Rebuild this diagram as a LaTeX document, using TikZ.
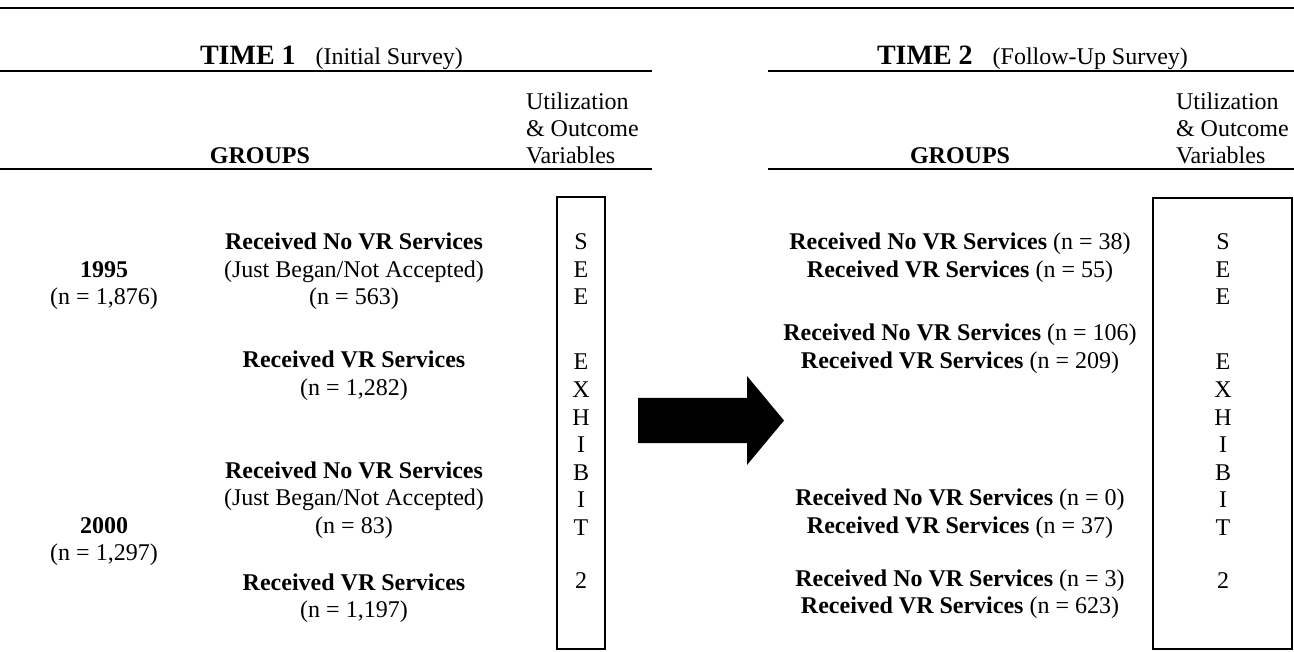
\documentclass[tikz,border=0pt]{standalone}
\usepackage{fontspec}
\setmainfont{Liberation Serif}
\begin{document}
\begin{tikzpicture}[x=1pt,y=-1pt,
  txt/.style={inner sep=0pt,outer sep=0pt,font=\fontsize{24}{27.5}\selectfont,anchor=base},
  bld/.style={txt,font=\fontsize{24}{27.5}\selectfont\bfseries},
  hdr/.style={txt,anchor=base west},
  rule/.style={line width=2pt},
  exbox/.style={draw,line width=2pt}]
\useasboundingbox (0,0) rectangle (1294,652);

% rules
\draw[rule,line width=2.4pt] (0,8) -- (1294,8);
\draw[rule] (0,71.5) -- (652,71.5);
\draw[rule] (0,169.5) -- (652,169.5);
\draw[rule] (768,71.5) -- (1294,71.5);
\draw[rule] (768,169.5) -- (1294,169.5);

% headers
\node[hdr] (t1) at (200,65) {{\fontsize{28}{30}\selectfont\bfseries TIME 1}\hspace{20pt}(Initial Survey)};
\node[hdr] (t2) at (877,65) {{\fontsize{28}{30}\selectfont\bfseries TIME 2}\hspace{20pt}(Follow-Up Survey)};
\node[bld] (g1) at (260,164) {GROUPS};
\node[bld] (g2) at (960,164) {GROUPS};
\node[hdr] (u1a) at (526,109.5) {Utilization};
\node[hdr] (u1b) at (526,137) {\& Outcome};
\node[hdr] (u1c) at (526,164) {Variables};
\node[hdr] (u2a) at (1176,109.5) {Utilization};
\node[hdr] (u2b) at (1176,137) {\& Outcome};
\node[hdr] (u2c) at (1176,164) {Variables};

% year groups
\node[bld] (y95) at (104,277.5) {1995};
\node[txt] (y95n) at (104,305) {(n = 1,876)};
\node[bld] (y00) at (104,533) {2000};
\node[txt] (y00n) at (104,560.5) {(n = 1,297)};

% time 1 groups
\node[bld] (a1) at (354,250) {Received No VR Services};
\node[txt] (a2) at (354,277.5) {(Just Began/Not Accepted)};
\node[txt] (a3) at (354,305) {(n = 563)};
\node[bld] (b1) at (354,368) {Received VR Services};
\node[txt] (b2) at (354,395.5) {(n = 1,282)};
\node[bld] (c1) at (354,478) {Received No VR Services};
\node[txt] (c2) at (354,505.5) {(Just Began/Not Accepted)};
\node[txt] (c3) at (354,533) {(n = 83)};
\node[bld] (d1) at (354,590) {Received VR Services};
\node[txt] (d2) at (354,617.5) {(n = 1,197)};

% time 2 groups
\node[txt] (r1) at (960,250) {\textbf{Received No VR Services} (n = 38)};
\node[txt] (r2) at (960,277.5) {\textbf{Received VR Services} (n = 55)};
\node[txt] (r3) at (960,341) {\textbf{Received No VR Services} (n = 106)};
\node[txt] (r4) at (960,368.5) {\textbf{Received VR Services} (n = 209)};
\node[txt] (r5) at (960,505.5) {\textbf{Received No VR Services} (n = 0)};
\node[txt] (r6) at (960,533) {\textbf{Received VR Services} (n = 37)};
\node[txt] (r7) at (960,586) {\textbf{Received No VR Services} (n = 3)};
\node[txt] (r8) at (960,613.5) {\textbf{Received VR Services} (n = 623)};

% exhibit boxes
\draw[exbox] (557,197) rectangle (605,649);
\draw[exbox] (1153,198) rectangle (1292,649);
\foreach \ch/\yy [count=\i] in {S/250,E/277.5,E/305,E/370,X/397.5,H/425,I/452.5,B/480,I/507.5,T/535,2/588}{
  \node[txt] (lx\i) at (581,\yy) {\ch};
  \node[txt] (rx\i) at (1223,\yy) {\ch};
}

% block arrow
\fill[black] (638,398) -- (747,398) -- (747,376) -- (784,420.5) -- (747,465) -- (747,443) -- (638,443) -- cycle;
\end{tikzpicture}
\end{document}
